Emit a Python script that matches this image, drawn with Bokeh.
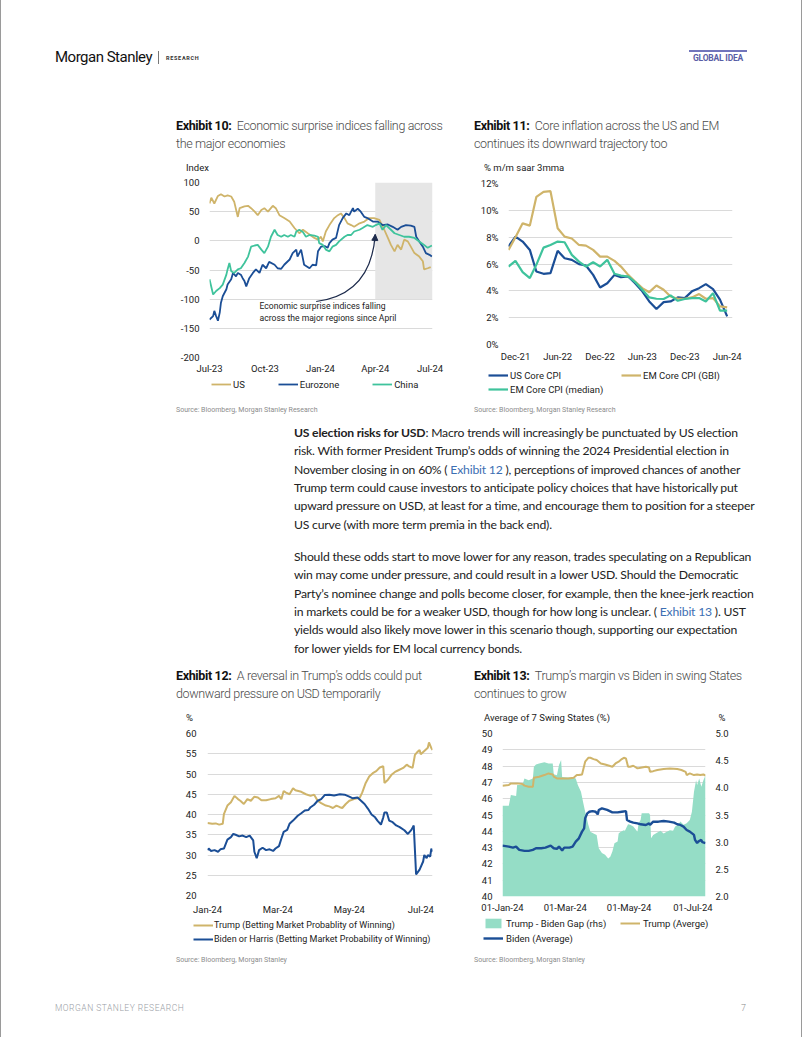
import numpy as np
import pandas as pd
from bokeh.plotting import figure
from bokeh.models import (Range1d, LinearAxis, FixedTicker, PrintfTickFormatter, Legend, LegendItem,
                          BoxAnnotation, Label, Div, Spacer, Arrow, NormalHead)
from bokeh.layouts import column, row
from bokeh.embed import file_html
from bokeh.resources import INLINE

FONT = "Roboto"

# ======================= DATA =======================
# Exhibit 10 - Economic surprise indices (x = days since 1 Jul 2023)
ex10_start = "2023-07-01"
us_days = [0, 3, 8, 14, 19, 25, 30, 36, 41, 47, 50, 58, 64, 69, 75, 80, 86, 91, 97, 105,
           110, 116, 124, 133, 141, 149, 155, 163, 174, 180, 185, 188, 193, 199, 207, 213, 218, 224, 229, 235,
           240, 249, 257, 265, 273, 282, 290, 296, 301, 307, 312, 318, 323, 329, 334, 340, 348, 354, 356, 362, 367]
us_vals = [64, 74, 64, 77, 80, 76, 78, 76, 67, 41, 56, 59, 60, 56, 50, 44, 53, 56, 50, 60,
           56, 44, 39, 33, 22, 13, 19, 13, 5, 2, 7, -1, 16, 27, 39, 44, 47, 39, 30, 27,
           24, 30, 33, 39, 39, 36, 19, 5, -7, -18, -7, -15, 2, -1, -10, -21, -27, -35, -49, -47, -45]
ez_days = [0, 6, 8, 11, 14, 17, 19, 22, 28, 30, 36, 39, 44, 47, 52, 55, 58, 61, 66, 72,
           77, 83, 88, 94, 99, 108, 113, 119, 124, 133, 138, 144, 146, 152, 157, 166, 171, 177, 180, 185,
           191, 196, 199, 204, 210, 215, 221, 227, 232, 238, 240, 246, 251, 257, 262, 271, 279, 287, 296, 304,
           312, 318, 326, 334, 340, 343, 348, 354, 359, 365, 369]
ez_vals = [-135, -129, -120, -129, -137, -123, -106, -95, -83, -75, -66, -55, -61, -55, -58, -64, -69, -78, -64, -55,
           -49, -55, -41, -47, -36, -41, -47, -48, -41, -32, -21, -15, -27, -15, -41, -47, -41, -42, -18, -10,
           -9, -12, -4, 2, 5, 27, 39, 47, 44, 56, 50, 55, 50, 41, 39, 33, 33, 27, 28, 24,
           19, 24, 27, 26, 24, 7, -1, -10, -21, -24, -27]
cn_days = [0, 6, 11, 17, 22, 28, 30, 33, 36, 41, 47, 52, 58, 64, 69, 75, 80, 86, 91, 97,
           102, 108, 113, 119, 124, 130, 135, 141, 144, 149, 155, 160, 166, 174, 180, 182, 188, 193, 199, 204,
           210, 215, 224, 229, 235, 240, 249, 254, 262, 271, 276, 282, 287, 293, 301, 307, 315, 323, 331, 340,
           348, 356, 362, 369]
cn_vals = [-66, -92, -86, -81, -75, -58, -49, -38, -52, -55, -49, -47, -38, -27, -10, -8, -7, -15, -21, -10,
           7, 19, 10, 7, 10, 7, 10, 7, 16, 19, 15, 7, 10, 9, 7, -4, -7, -15, -18, -10,
           -7, -1, 7, 10, 10, 16, 19, 22, 27, 24, 27, 30, 19, 27, 19, 13, 10, 7, 7, 5,
           -1, -7, -12, -8]
ex10_tick_dates = ["2023-07-01", "2023-10-01", "2024-01-01", "2024-04-01", "2024-07-01"]
ex10_tick_labels = ["Jul-23", "Oct-23", "Jan-24", "Apr-24", "Jul-24"]
ex10_yticks = [-200, -150, -100, -50, 0, 50, 100]

# Exhibit 11 - Core inflation, % m/m saar 3mma, monthly Nov-21 .. Jun-24
ex11_months = pd.date_range("2021-11-01", periods=32, freq="MS")
us_core = [7.3, 8.04, 7.67, 7.05, 5.44, 5.27, 5.32, 6.98, 6.43, 6.31, 5.99, 5.89, 5.19, 4.25, 4.57, 5.19,
           5.02, 5.07, 4.57, 3.96, 3.21, 2.64, 3.16, 3.21, 3.51, 3.46, 3.96, 4.2, 4.5, 4.13, 3.34, 2.1]
em_gbi = [7.05, 8.0, 9.03, 8.86, 11.0, 11.38, 11.43, 8.66, 8.04, 7.9, 7.42, 7.37, 7.05, 6.55, 6.55, 6.23,
          5.81, 5.19, 4.7, 4.2, 3.9, 4.4, 4.08, 3.58, 3.41, 3.41, 3.51, 3.76, 3.41, 3.46, 2.84, 2.77]
em_median = [5.81, 6.23, 5.39, 4.95, 5.94, 7.22, 7.42, 7.67, 7.62, 6.68, 6.18, 5.81, 6.13, 5.81, 6.31, 5.27,
             5.14, 5.07, 4.65, 4.08, 3.51, 3.41, 3.39, 3.66, 3.26, 3.39, 3.46, 3.46, 3.21, 3.83, 2.52, 2.52]
ex11_tick_dates = ["2021-12-01", "2022-06-01", "2022-12-01", "2023-06-01", "2023-12-01", "2024-06-01"]
ex11_tick_labels = ["Dec-21", "Jun-22", "Dec-22", "Jun-23", "Dec-23", "Jun-24"]
ex11_yticks = [0, 2, 4, 6, 8, 10, 12]

# Exhibit 12 - Betting market probability of winning, % (x = days since 1 Jan 2024)
ex12_start = "2024-01-01"
trump_bet_days = [0, 4, 7, 10, 13, 14, 17, 20, 23, 26, 28, 31, 34, 37, 40, 43, 46, 50, 54, 58,
                  61, 63, 65, 67, 70, 73, 75, 80, 84, 88, 91, 94, 97, 101, 104, 107, 110, 113, 115, 118,
                  121, 125, 130, 132, 135, 138, 141, 144, 147, 150, 151, 154, 157, 160, 162, 167, 170, 172, 175, 177,
                  179, 181, 182, 185, 188, 189, 191, 192]
trump_bet = [37.9, 37.7, 37.8, 37.5, 37.7, 40.1, 42.2, 43.0, 44.6, 43.8, 43.4, 42.6, 43.8, 43.4, 44.4, 44.2, 43.5, 43.5, 43.8, 44.0,
             44.6, 43.8, 45.8, 45.4, 45.0, 46.5, 46.0, 45.6, 45.0, 44.6, 44.9, 43.4, 42.8, 42.2, 42.0, 41.6, 42.2, 41.8, 41.6, 42.6,
             43.4, 43.8, 44.2, 45.4, 47.8, 49.4, 50.2, 50.7, 51.6, 51.9, 47.8, 48.6, 49.8, 50.5, 50.8, 51.5, 52.3, 51.9, 51.5, 54.7,
             55.4, 55.9, 54.9, 55.7, 56.5, 57.8, 56.4, 55.9]
biden_bet_days = [0, 1, 3, 6, 9, 11, 14, 17, 20, 22, 24, 27, 30, 33, 36, 39, 40, 42, 44, 47,
                  50, 53, 56, 58, 61, 63, 65, 68, 70, 73, 77, 80, 83, 86, 88, 91, 94, 97, 100, 104,
                  108, 113, 117, 121, 124, 128, 131, 134, 137, 140, 143, 145, 148, 150, 151, 153, 155, 158, 161, 164,
                  168, 171, 174, 176, 177, 178, 181, 184, 185, 187, 188, 190, 191, 192]
biden_bet = [31.2, 31.6, 31.0, 31.2, 30.8, 31.4, 31.6, 33.8, 34.4, 35.2, 35.0, 34.6, 34.8, 34.4, 34.8, 33.6, 30.8, 29.2, 31.2, 31.8,
             31.2, 31.4, 31.0, 31.6, 32.2, 34.0, 35.7, 36.2, 37.7, 38.5, 39.7, 40.3, 41.0, 41.1, 41.8, 42.4, 43.4, 43.8, 44.8, 44.9,
             44.7, 45.0, 44.9, 44.4, 44.0, 44.2, 43.4, 42.6, 41.4, 40.0, 39.3, 38.5, 37.5, 39.3, 40.5, 40.5, 38.5, 38.1, 37.3, 36.9,
             36.1, 35.2, 36.2, 37.3, 31.2, 25.2, 26.4, 28.4, 30.0, 29.2, 30.0, 29.6, 31.6, 30.8]
ex12_tick_dates = ["2024-01-01", "2024-03-01", "2024-05-01", "2024-07-01"]
ex12_tick_labels = ["Jan-24", "Mar-24", "May-24", "Jul-24"]
ex12_yticks = [20, 25, 30, 35, 40, 45, 50, 55, 60]

# Exhibit 13 - Average of 7 swing states (x = days since 1 Jan 2024)
ex13_start = "2024-01-01"
gap_days = [0, 6, 8, 13, 14, 19, 21, 25, 29, 30, 32, 35, 40, 44, 48, 49, 52, 54, 56, 57,
            62, 67, 70, 72, 75, 77, 79, 82, 84, 87, 90, 92, 95, 98, 101, 103, 105, 107, 110, 111,
            113, 116, 117, 120, 122, 125, 129, 130, 132, 133, 137, 140, 141, 142, 144, 148, 151, 154, 157, 160,
            163, 165, 168, 170, 173, 176, 179, 181, 183, 185, 186, 188, 190, 192, 194]
gap_vals = [3.67, 3.67, 3.87, 3.85, 4.05, 4.05, 4.17, 4.14, 4.17, 4.39, 4.43, 4.45, 4.47, 4.45, 4.45, 4.25, 4.23, 4.42, 4.51, 4.20,
            4.19, 4.19, 4.17, 4.05, 3.93, 3.74, 3.56, 3.32, 3.19, 3.16, 3.13, 2.89, 2.80, 2.77, 2.70, 2.73, 2.83, 2.98, 3.01, 3.16,
            3.19, 3.22, 3.21, 3.33, 3.32, 3.29, 3.19, 3.35, 3.41, 3.53, 3.53, 3.53, 3.50, 3.07, 3.13, 3.18, 3.21, 3.16, 3.19, 3.22,
            3.21, 3.29, 3.32, 3.38, 3.32, 3.35, 3.41, 3.56, 3.93, 4.14, 4.05, 4.17, 4.02, 4.14, 4.23]
trump_avg_days = [0, 6, 8, 14, 19, 21, 25, 29, 30, 35, 40, 44, 48, 49, 52, 57, 63, 68, 71, 73,
                  76, 79, 82, 84, 87, 90, 94, 98, 102, 105, 108, 111, 114, 116, 118, 120, 122, 125, 129, 132,
                  137, 140, 141, 144, 148, 154, 160, 167, 171, 175, 176, 179, 183, 186, 189, 192, 194]
trump_avg = [46.8, 46.84, 46.94, 46.94, 46.9, 46.8, 46.73, 46.73, 47.29, 47.35, 47.45, 47.55, 47.49, 47.35, 47.24, 47.24, 47.24, 47.29, 47.45, 47.45,
             47.49, 48.27, 48.51, 48.51, 48.43, 48.37, 48.16, 48.1, 48.02, 47.96, 48.16, 48.27, 48.43, 48.51, 48.47, 47.96, 47.96, 48.02, 47.86, 47.9,
             47.96, 47.92, 47.65, 47.69, 47.76, 47.82, 47.86, 47.82, 47.76, 47.65, 47.45, 47.55, 47.45, 47.49, 47.45, 47.49, 47.41]
biden_avg_days = [0, 6, 10, 13, 16, 21, 25, 29, 32, 37, 41, 46, 49, 52, 54, 57, 59, 64, 67, 70,
                  73, 76, 78, 79, 81, 83, 86, 89, 91, 92, 95, 100, 105, 110, 114, 118, 119, 122, 125, 129,
                  132, 137, 140, 141, 144, 149, 154, 159, 164, 167, 170, 173, 176, 179, 183, 184, 186, 187, 190, 191, 194]
biden_avg = [43.12, 43.06, 43.0, 43.06, 42.86, 42.8, 42.8, 42.86, 42.96, 42.96, 43.0, 43.12, 42.96, 42.92, 43.06, 42.82, 43.0, 43.0, 43.06, 43.37,
             43.57, 43.98, 44.18, 44.8, 45.1, 45.2, 45.24, 45.2, 45.04, 45.31, 45.41, 45.31, 45.16, 45.16, 45.2, 45.24, 44.69, 44.59, 44.53, 44.49,
             44.43, 44.39, 44.49, 44.39, 44.59, 44.59, 44.63, 44.59, 44.53, 44.43, 44.39, 44.29, 44.08, 43.98, 43.78, 43.47, 43.27, 43.37, 43.47, 43.33, 43.27]
ex13_tick_dates = ["2024-01-01", "2024-03-01", "2024-05-01", "2024-07-01"]
ex13_tick_labels = ["01-Jan-24", "01-Mar-24", "01-May-24", "01-Jul-24"]
ex13_yticks_l = [40, 41, 42, 43, 44, 45, 46, 47, 48, 49, 50]
ex13_yticks_r = [2.0, 2.5, 3.0, 3.5, 4.0, 4.5, 5.0]

# ======================= STYLE =======================
GOLD = "#cfb46a"
NAVY = "#1b4e96"
TEAL = "#3fc39c"
MINT = "#95ddc6"
GRID = "#dadada"
TXT = "#222222"
EDGE = "#9a9a9a"
TICK_SIZE = "9.5px"
DAY = 86400000.0


def ms(s):
    return pd.Timestamp(s).value / 1e6


def dts(start, days):
    return pd.Timestamp(start) + pd.to_timedelta(np.asarray(days, dtype=float), unit="D")


def make_fig(w, h, xr, yr, L, T, B, R):
    p = figure(width=w, height=h, x_range=xr, y_range=yr, x_axis_type="datetime",
               output_backend="svg", toolbar_location=None,
               min_border_left=L, min_border_top=T, min_border_bottom=B, min_border_right=R, margin=0)
    p.outline_line_color = None
    p.background_fill_color = "white"
    p.border_fill_color = "white"
    p.xgrid.visible = False
    p.ygrid.grid_line_color = GRID
    p.ygrid.grid_line_width = 1
    for ax in p.axis:
        ax.axis_line_color = None
        ax.major_tick_line_color = None
        ax.minor_tick_line_color = None
        ax.major_tick_out = 0
        ax.major_tick_in = 0
        ax.minor_tick_out = 0
        ax.major_label_text_font = FONT
        ax.major_label_text_font_size = TICK_SIZE
        ax.major_label_text_color = TXT
    return p


def set_xticks(p, dates, labels):
    t = [int(ms(d)) for d in dates]
    p.xaxis.ticker = FixedTicker(ticks=t)
    p.xaxis.major_label_overrides = {k: v for k, v in zip(t, labels)}


def legend_fig(w, h, specs, vx, top, rows, lh=12, spacing=2, orientation="vertical", ncols=None,
               label_width=0, standoff=2, size="9.5px"):
    """A strip below a chart that carries the chart's legend key (keys styled like the series)."""
    lf = figure(frame_width=w, frame_height=h, x_range=Range1d(0, 1), y_range=Range1d(0, 1),
                output_backend="svg", toolbar_location=None, x_axis_location=None, y_axis_location=None,
                min_border=0, margin=0)
    try:
        lf.frame_align = False
    except Exception:
        pass
    lf.outline_line_color = None
    lf.grid.visible = False
    items = []
    for label, kind, kw in specs:
        # key renderers sit outside the strip's visible range; only their legend keys show
        if kind == "line":
            r = lf.line(x=[-2, -1], y=[-2, -1], **kw)
        else:
            r = lf.varea(x=[-2, -1], y1=[-2, -2], y2=[-1, -1], **kw)
        items.append(LegendItem(label=label, renderers=[r]))
    leg_h = rows * lh + (rows - 1) * spacing
    lg = Legend(items=items, location=(vx, h - top - leg_h), orientation=orientation,
                label_text_font=FONT, label_text_font_size=size, label_text_color=TXT,
                glyph_width=20, glyph_height=lh, label_height=lh, label_width=label_width,
                label_standoff=standoff, spacing=spacing, padding=0, margin=0,
                border_line_color=None, background_fill_alpha=0)
    if ncols:
        lg.ncols = ncols
    lf.add_layout(lg)
    return lf


def edge_lines(w, h, left=True, right=True):
    s = ""
    if left:
        s += f"<div style=\"position:absolute;left:0;top:0;width:1px;height:{h}px;background:{EDGE};\"></div>"
    if right:
        s += f"<div style=\"position:absolute;left:{w - 1}px;top:0;width:1px;height:{h}px;background:{EDGE};\"></div>"
    return s


def edge_div(w, h, left=False, right=False):
    return Div(width=w, height=h, margin=0,
               text=f"<div style=\"position:relative;width:{w}px;height:{h}px;\">{edge_lines(w, h, left, right)}</div>")


def title_div(num, l1, l2, w, units):
    parts = [f"<div style=\"position:relative;width:{w}px;height:57px;\">",
             "<div style=\"position:absolute;left:0;top:0;font-family:Roboto,sans-serif;font-size:12.5px;"
             "line-height:18px;color:#4a4a4a;font-weight:300;letter-spacing:-0.35px;white-space:nowrap;\">"
             f"<b style=\"color:#111;font-weight:700;\">Exhibit {num}:</b>&nbsp;&nbsp;{l1}<br>{l2}</div>"]
    for text, left, width, align in units:
        parts.append(f"<div style=\"position:absolute;left:{left}px;top:45px;width:{width}px;text-align:{align};"
                     "font-family:Roboto,sans-serif;font-size:9.5px;line-height:12px;color:#222;"
                     f"white-space:nowrap;\">{text}</div>")
    parts.append("</div>")
    return Div(text="".join(parts), width=w, height=57, margin=0)


def source_div(text, w):
    html = (f"<div style=\"font-family:Roboto,sans-serif;font-size:7px;line-height:13px;color:#8c8c8c;"
            f"white-space:nowrap;\">{text}</div>")
    return Div(text=html, width=w, height=13, margin=0)


# ======================= EXHIBIT 10 =======================
x10 = Range1d(ms(ex10_start), ms(ex10_start) + 370 * DAY)
p10 = make_fig(272, 202, x10, Range1d(-200, 100), 33, 8, 18, 16)
p10.yaxis.ticker = FixedTicker(ticks=ex10_yticks)
p10.yaxis.formatter = PrintfTickFormatter(format="%d")
p10.yaxis.major_label_standoff = 10
p10.xaxis.major_label_standoff = 5
set_xticks(p10, ex10_tick_dates, ex10_tick_labels)
p10.add_layout(BoxAnnotation(left=ms("2024-04-01"), right=x10.end, top=100, bottom=-100,
                             fill_color="#e6e6e6", fill_alpha=1, line_color=None, level="underlay"))
p10.line(dts(ex10_start, us_days), us_vals, line_color=GOLD, line_width=1.8)
p10.line(dts(ex10_start, ez_days), ez_vals, line_color=NAVY, line_width=1.8)
p10.line(dts(ex10_start, cn_days), cn_vals, line_color=TEAL, line_width=1.8)
ARROW = "#1d2b4c"
a0 = (ms("2023-12-25"), -104)
ac = (ms("2024-03-25"), -92)
a1 = (ms("2024-04-01"), 11)
p10.quadratic(x0=[a0[0]], y0=[a0[1]], x1=[a1[0]], y1=[a1[1]], cx=[ac[0]], cy=[ac[1]],
              line_color=ARROW, line_width=1.2)
p10.add_layout(Arrow(end=NormalHead(size=6, fill_color=ARROW, line_color=ARROW, line_width=1),
                     x_start=a1[0] - 0.8 * DAY, y_start=a1[1] - 12, x_end=a1[0], y_end=a1[1],
                     line_color=ARROW, line_width=1.2))
p10.add_layout(Label(x=ms("2023-09-22"), y=-112, text="Economic surprise indices falling",
                     text_font=FONT, text_font_size="8.6px", text_color=TXT, text_baseline="middle"))
p10.add_layout(Label(x=ms("2023-09-22"), y=-133, text="across the major regions since April",
                     text_font=FONT, text_font_size="8.6px", text_color=TXT, text_baseline="middle"))
leg10 = legend_fig(272, 24, [("US", "line", dict(line_color=GOLD, line_width=1.8)),
                             ("Eurozone", "line", dict(line_color=NAVY, line_width=1.8)),
                             ("China", "line", dict(line_color=TEAL, line_width=1.8))],
                   vx=35, top=2, rows=1, orientation="horizontal", spacing=33)

# ======================= EXHIBIT 11 =======================
x11 = Range1d(ms("2021-11-01"), ms("2024-06-24"))
p11 = make_fig(288, 190, x11, Range1d(0, 12), 34, 9, 19, 30)
p11.yaxis.ticker = FixedTicker(ticks=ex11_yticks)
p11.yaxis.formatter = PrintfTickFormatter(format="%d%%")
p11.yaxis.major_label_standoff = 10
p11.xaxis.major_label_standoff = 6
set_xticks(p11, ex11_tick_dates, ex11_tick_labels)
p11.line(ex11_months, us_core, line_color=NAVY, line_width=2.2)
p11.line(ex11_months, em_gbi, line_color=GOLD, line_width=2.2)
p11.line(ex11_months, em_median, line_color=TEAL, line_width=2.2)
leg11 = legend_fig(288, 36, [("US Core CPI", "line", dict(line_color=NAVY, line_width=2.2)),
                             ("EM Core CPI (GBI)", "line", dict(line_color=GOLD, line_width=2.2)),
                             ("EM Core CPI (median)", "line", dict(line_color=TEAL, line_width=2.2))],
                   vx=14, top=5, rows=2, orientation="horizontal", ncols=2, spacing=2, label_width=109)

# ======================= EXHIBIT 12 =======================
x12 = Range1d(ms(ex12_start), ms(ex12_start) + 192 * DAY)
p12 = make_fig(292, 193, x12, Range1d(20, 60), 31, 9, 20, 36)
p12.yaxis.ticker = FixedTicker(ticks=ex12_yticks)
p12.yaxis.major_label_standoff = 11
p12.xaxis.major_label_standoff = 8
set_xticks(p12, ex12_tick_dates, ex12_tick_labels)
p12.line(dts(ex12_start, trump_bet_days), trump_bet, line_color=GOLD, line_width=2)
p12.line(dts(ex12_start, biden_bet_days), biden_bet, line_color=NAVY, line_width=2)
leg12 = legend_fig(292, 33, [("Trump (Betting Market Probablity of Winning)", "line", dict(line_color=GOLD, line_width=2)),
                             ("Biden or Harris (Betting Market Probability of Winning)", "line",
                              dict(line_color=NAVY, line_width=2))],
                   vx=17, top=2, rows=2, spacing=2, standoff=1, size="9px")

# ======================= EXHIBIT 13 =======================
x13 = Range1d(ms(ex13_start), ms(ex13_start) + 194 * DAY)
p13 = make_fig(276, 191, x13, Range1d(40, 50), 28, 9, 18, 45)
p13.extra_y_ranges = {"rhs": Range1d(2.0, 5.0)}
rax = LinearAxis(y_range_name="rhs", ticker=FixedTicker(ticks=ex13_yticks_r),
                 formatter=PrintfTickFormatter(format="%.1f"),
                 axis_line_color=None, major_tick_line_color=None, minor_tick_line_color=None,
                 major_tick_out=0, major_tick_in=0, minor_tick_out=0,
                 major_label_text_font=FONT, major_label_text_font_size=TICK_SIZE,
                 major_label_text_color=TXT, major_label_standoff=10)
p13.add_layout(rax, "right")
p13.yaxis[0].ticker = FixedTicker(ticks=ex13_yticks_l)
p13.yaxis[0].major_label_standoff = 10
p13.xaxis.major_label_standoff = 5
set_xticks(p13, ex13_tick_dates, ex13_tick_labels)
p13.varea(x=dts(ex13_start, gap_days), y1=2.0, y2=gap_vals, y_range_name="rhs", fill_color=MINT, fill_alpha=1)
p13.line(dts(ex13_start, trump_avg_days), trump_avg, line_color=GOLD, line_width=2)
p13.line(dts(ex13_start, biden_avg_days), biden_avg, line_color=NAVY, line_width=2.4)
leg13 = legend_fig(276, 35, [("Trump - Biden Gap (rhs)", "area", dict(fill_color=MINT, fill_alpha=1)),
                             ("Trump (Averge)", "line", dict(line_color=GOLD, line_width=2)),
                             ("Biden (Average)", "line", dict(line_color=NAVY, line_width=2.4))],
                   vx=9, top=2, rows=2, orientation="horizontal", ncols=2, spacing=3, label_width=111,
                   standoff=3)

# ======================= PAGE =======================
header = Div(width=802, height=117, margin=0, text=(
    "<div style=\"position:relative;width:802px;height:117px;\">"
    + edge_lines(802, 117) +
    "<div style=\"position:absolute;left:55px;top:47px;font-family:Roboto,sans-serif;font-size:15px;"
    "letter-spacing:-0.5px;color:#111;line-height:20px;white-space:nowrap;\">Morgan Stanley</div>"
    "<div style=\"position:absolute;left:158px;top:51px;width:1px;height:13px;background:#777;\"></div>"
    "<div style=\"position:absolute;left:166px;top:53px;font-family:Roboto,sans-serif;font-weight:700;"
    "font-size:5.5px;letter-spacing:0.7px;color:#333;line-height:10px;\">RESEARCH</div>"
    "<div style=\"position:absolute;left:689px;top:50px;width:58px;height:2px;background:#7175bb;\"></div>"
    "<div style=\"position:absolute;left:686px;top:53px;width:64px;text-align:center;font-family:Roboto,sans-serif;"
    "font-weight:700;font-size:8.5px;letter-spacing:-0.2px;color:#5a5ea6;line-height:11px;\">GLOBAL IDEA</div>"
    "</div>"))

LINK = "color:#3d6fb3;"
body_html = (
    "<div style=\"position:relative;width:802px;height:254px;\">" + edge_lines(802, 254) +
    "<div style=\"position:absolute;left:294px;top:10.8px;font-family:Lato,sans-serif;font-size:12.2px;"
    "line-height:18.4px;letter-spacing:-0.2px;color:#222;white-space:nowrap;\">"
    "<p style=\"margin:0 0 13.6px 0;\">"
    "<b>US election risks for USD</b>: Macro trends will increasingly be punctuated by US election<br>"
    "risk. With former President Trump’s odds of winning the 2024 Presidential election in<br>"
    f"November closing in on 60% ( <span style=\"{LINK}\">Exhibit 12</span> ), perceptions of improved chances of another<br>"
    "Trump term could cause investors to anticipate policy choices that have historically put<br>"
    "upward pressure on USD, at least for a time, and encourage them to position for a steeper<br>"
    "US curve (with more term premia in the back end).</p>"
    "<p style=\"margin:0;\">"
    "Should these odds start to move lower for any reason, trades speculating on a Republican<br>"
    "win may come under pressure, and could result in a lower USD. Should the Democratic<br>"
    "Party’s nominee change and polls become closer, for example, then the knee-jerk reaction<br>"
    f"in markets could be for a weaker USD, though for how long is unclear. ( <span style=\"{LINK}\">Exhibit 13</span> ). UST<br>"
    "yields would also likely move lower in this scenario though, supporting our expectation<br>"
    "for lower yields for EM local currency bonds.</p></div></div>")
body = Div(width=802, height=254, margin=0, text=body_html)

footer = Div(width=802, height=74, margin=0, text=(
    "<div style=\"position:relative;width:802px;height:74px;\">" + edge_lines(802, 74) +
    "<div style=\"position:absolute;left:55px;top:39px;font-family:Roboto,sans-serif;font-size:8.5px;"
    "font-weight:300;letter-spacing:0.5px;color:#9aa0a6;line-height:12px;\">MORGAN STANLEY RESEARCH</div>"
    "<div style=\"position:absolute;left:741px;top:39px;font-family:Roboto,sans-serif;font-size:9px;"
    "font-weight:300;color:#888;line-height:12px;\">7</div>"
    "</div>"))

col10 = column(title_div(10, "Economic surprise indices falling across", "the major economies", 272,
                         [("Index", 10, 60, "left")]),
               p10, leg10, source_div("Source: Bloomberg, Morgan Stanley Research", 272), spacing=0, margin=0)
col11 = column(title_div(11, "Core inflation across the US and EM", "continues its downward trajectory too", 288,
                         [("% m/m saar 3mma", 10, 120, "left")]),
               p11, leg11, source_div("Source: Bloomberg, Morgan Stanley Research", 288), spacing=0, margin=0)
col12 = column(title_div(12, "A reversal in Trump’s odds could put", "downward pressure on USD temporarily", 292,
                         [("%", 10, 20, "left")]),
               p12, leg12, source_div("Source: Bloomberg, Morgan Stanley", 292), spacing=0, margin=0)
col13 = column(title_div(13, "Trump’s margin vs Biden in swing States", "continues to grow", 276,
                         [("Average of 7 Swing States (%)", 10, 160, "left"), ("%", 238, 20, "center")]),
               p13, leg13, source_div("Source: Bloomberg, Morgan Stanley", 276), spacing=0, margin=0)

row1 = row(edge_div(176, 296, left=True), col10, Spacer(width=26, height=296, margin=0), col11,
           edge_div(40, 296, right=True), spacing=0, margin=0)
row2 = row(edge_div(176, 296, left=True), col12, Spacer(width=6, height=296, margin=0), col13,
           edge_div(52, 296, right=True), spacing=0, margin=0)

page = column(header, row1, body, row2, footer, spacing=0, margin=0)

open("out.html", "w").write(file_html(page, INLINE))
